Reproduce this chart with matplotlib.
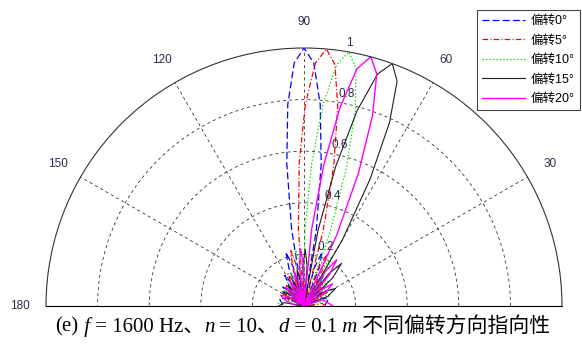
import numpy as np
import matplotlib
matplotlib.use("Agg")
import matplotlib.pyplot as plt
from matplotlib.offsetbox import TextArea, HPacker, AnchoredOffsetbox

plt.rcParams["font.family"] = ["Liberation Sans", "Noto Sans CJK SC"]
plt.rcParams["lines.scale_dashes"] = False

# ---------------------------------------------------------------
# Data (angle in degrees, normalised level)
# ---------------------------------------------------------------
LABELS = ["偏转0°", "偏转5°", "偏转10°", "偏转15°", "偏转20°"]

# blue, main lobe at 90
ang_0 = [0, 17.0, 25.4, 31.8, 37.2, 42.0, 46.3, 50.4, 54.2, 57.9, 61.4, 64.85,
         68.2, 71.4, 74.6, 77.7, 80.8, 83.1, 85.4, 87.7, 90, 92.3, 94.6, 96.9,
         99.2, 102.3, 105.4, 108.6, 111.8, 115.15, 118.6, 122.1, 125.8, 129.6,
         133.7, 138.0, 142.8, 148.2, 154.6, 163.0, 180]
r_0 = [0.08, 0.10, 0.071, 0, 0.078, 0.11, 0.078, 0, 0.10, 0.14, 0.10, 0,
       0.156, 0.22, 0.156, 0, 0.299, 0.555, 0.784, 0.943, 1, 0.943, 0.784, 0.555,
       0.299, 0, 0.156, 0.22, 0.156, 0, 0.10, 0.14, 0.10, 0,
       0.078, 0.11, 0.078, 0, 0.071, 0.10, 0.08]

# red, main lobe at 85
ang_5 = [0, 8.0, 20.4, 27.85, 33.8, 38.9, 43.55, 47.8, 51.8, 55.6, 59.2, 62.7,
         66.05, 69.3, 72.56, 75.7, 78.0, 80.4, 82.7, 85, 87.3, 89.6, 91.9, 94.2,
         97.2, 100.3, 103.4, 106.5, 109.7, 113.0, 116.4, 119.8, 123.4, 127.1,
         131.0, 135.2, 139.7, 144.7, 150.35, 157.25, 167.2, 180]
r_5 = [0.082, 0.071, 0, 0.078, 0.11, 0.078, 0, 0.10, 0.14, 0.10, 0, 0.156,
       0.22, 0.156, 0, 0.299, 0.555, 0.784, 0.943, 1, 0.943, 0.784, 0.555, 0.299,
       0, 0.156, 0.22, 0.156, 0, 0.10, 0.14, 0.10, 0, 0.078,
       0.11, 0.078, 0, 0.071, 0.10, 0.071, 0, 0.036]

# green, main lobe at 80
ang_10 = [0, 13.9, 23.45, 30.2, 35.8, 40.7, 45.2, 49.3, 53.2, 56.9, 60.5, 63.9,
          67.3, 70.5, 72.9, 75.3, 77.7, 80, 82.3, 84.6, 86.9, 89.2, 92.2, 95.3,
          98.35, 101.4, 104.6, 107.7, 111.0, 114.25, 117.6, 121.1, 124.8, 128.6,
          132.6, 136.8, 141.5, 146.7, 152.7, 160.4, 174.4, 180]
r_10 = [0.036, 0.078, 0.11, 0.078, 0, 0.10, 0.14, 0.10, 0, 0.156, 0.22, 0.156,
        0, 0.299, 0.555, 0.784, 0.943, 1, 0.943, 0.784, 0.555, 0.299, 0, 0.156,
        0.22, 0.156, 0, 0.10, 0.14, 0.10, 0, 0.078, 0.11, 0.078,
        0, 0.071, 0.10, 0.071, 0, 0.071, 0.10, 0.101]

# black, main lobe at 70
ang_15 = [0, 11.6, 22.1, 29.15, 34.9, 39.9, 44.45, 48.6, 52.6, 56.3, 59.9, 62.5,
          65.0, 67.5, 70, 72.4, 74.8, 77.2, 79.5, 82.6, 85.6, 88.7, 91.7, 94.8,
          97.8, 100.9, 104.0, 107.2, 110.4, 113.7, 117.1, 120.5, 124.1, 127.9,
          131.9, 136.1, 140.7, 145.8, 151.6, 158.9, 170.4, 180]
r_15 = [0.036, 0, 0.10, 0.14, 0.10, 0, 0.156, 0.22, 0.156, 0, 0.299, 0.555,
        0.784, 0.943, 1, 0.943, 0.784, 0.555, 0.299, 0, 0.156, 0.22, 0.156, 0,
        0.10, 0.14, 0.10, 0, 0.078, 0.11, 0.078, 0, 0.071, 0.10,
        0.071, 0, 0.071, 0.10, 0.071, 0, 0.078, 0.097]

# magenta, main lobe at 75
ang_20 = [0, 18.3, 26.3, 32.5, 37.8, 42.5, 46.9, 50.9, 54.7, 58.4, 61.9, 65.2,
          67.7, 70.2, 72.6, 75, 77.4, 79.7, 82.0, 84.3, 87.35, 90.4, 93.4, 96.5,
          99.6, 102.7, 105.8, 109.0, 112.25, 115.6, 119.0, 122.55, 126.2, 130.1,
          134.2, 138.6, 143.5, 149.0, 155.5, 164.4, 180]
r_20 = [0.112, 0.078, 0, 0.10, 0.14, 0.10, 0, 0.156, 0.22, 0.156, 0, 0.299,
        0.555, 0.784, 0.943, 1, 0.943, 0.784, 0.555, 0.299, 0, 0.156, 0.22, 0.156,
        0, 0.10, 0.14, 0.10, 0, 0.078, 0.11, 0.078, 0, 0.071,
        0.10, 0.071, 0, 0.071, 0.10, 0.071, 0.025]

ANGLE_TICKS = [0, 30, 60, 90, 120, 150, 180]
ANGLE_TEXT = [30, 60, 90, 120, 150, 180]   # the 0 label falls outside the picture
R_TICKS = [0.2, 0.4, 0.6, 0.8, 1.0]
R_TICK_TEXT = ["0.2", "0.4", "0.6", "0.8", "1"]

SERIES = [
    (ang_0, r_0, dict(color="#0000ff", linestyle=(0, (5, 2.3)), linewidth=0.9)),
    (ang_5, r_5, dict(color="#ff0000", linestyle=(0, (4, 1.6, 0.8, 1.6)), linewidth=0.9)),
    (ang_10, r_10, dict(color="#00e000", linestyle=(0, (1, 1.5)), linewidth=0.9)),
    (ang_15, r_15, dict(color="#202020", linestyle="-", linewidth=0.8)),
    (ang_20, r_20, dict(color="#ff00ff", linestyle="-", linewidth=1.0)),
]

LABEL_COLOR = "#2a2a4a"

fig = plt.figure(figsize=(5.82, 3.46), dpi=100)
# the half-disk is centred inside a square axes box: centre (304, 306) px, radius 258 px
ax = fig.add_axes([46 / 582, -89 / 346, 516 / 582, 516 / 346], projection="polar")
ax.set_thetamin(0)
ax.set_thetamax(180)
ax.set_rlim(0, 1)
ax.set_axisbelow(True)

# grid in the MATLAB polar style
ax.set_xticks(np.radians(ANGLE_TICKS))
ax.set_yticks(R_TICKS[:-1])
ax.set_xticklabels([])
ax.set_yticklabels([])
ax.tick_params(length=0)
ax.grid(True, color="#333333", linestyle=(0, (2.2, 2.2)), linewidth=0.6)
for gl in ax.xaxis.get_gridlines():
    gl.set_clip_on(False)
ax.spines["polar"].set_color("#333333")
ax.spines["polar"].set_linewidth(0.8)
ax.spines["start"].set_visible(False)
ax.spines["end"].set_visible(False)

for (ang, r, style), lab in zip(SERIES, LABELS):
    ax.plot(np.radians(ang), r, label=lab, **style)

for a in ANGLE_TEXT:
    ax.text(np.radians(a), 1.1, str(a), ha="center", va="center",
            fontsize=8.5, color=LABEL_COLOR)

for rv, txt in zip(R_TICKS, R_TICK_TEXT):
    ax.annotate(txt, xy=(np.radians(82), rv), xytext=(4.5, 3.5),
                textcoords="offset points", ha="left", va="baseline",
                fontsize=8.5, color=LABEL_COLOR)

leg = ax.legend(loc="upper right", bbox_to_anchor=(580 / 582, 336 / 346),
                bbox_transform=fig.transFigure, fancybox=False, framealpha=1,
                edgecolor="#444444", fontsize=9, handlelength=3.4,
                handletextpad=0.5, labelspacing=0.6, borderpad=0.4,
                borderaxespad=0)
leg.get_frame().set_linewidth(0.8)

# caption with italic symbols (leading spaces carry the word gaps)
cap_font = ["Liberation Serif", "Noto Sans CJK SC"]
pieces = [("(e)", "normal"), (" f", "italic"), (" = 1600 Hz、", "normal"),
          ("n", "italic"), (" = 10、", "normal"), ("d", "italic"),
          (" = 0.1", "normal"), (" m", "italic"), (" 不同偏转方向指向性", "normal")]
areas = [TextArea(t, textprops=dict(family=cap_font, size=15, style=s, color="black"))
         for t, s in pieces]
box = HPacker(children=areas, align="baseline", pad=0, sep=0)
anch = AnchoredOffsetbox(loc="center", child=box, pad=0, borderpad=0, frameon=False,
                         bbox_to_anchor=(303 / 582, 19 / 346),
                         bbox_transform=fig.transFigure)
fig.add_artist(anch)

fig.savefig("out.png", dpi=100)
